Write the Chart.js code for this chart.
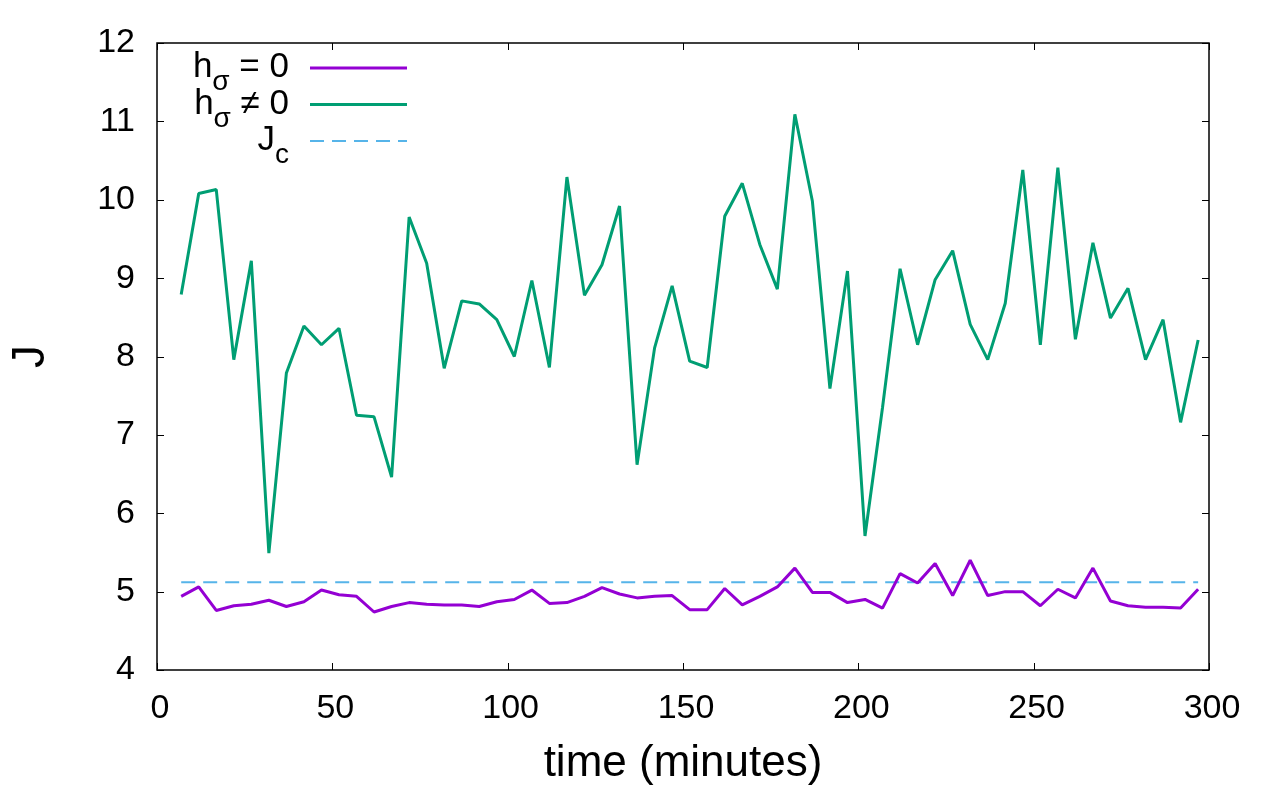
<!DOCTYPE html>
<html>
<head>
<meta charset="utf-8">
<script src="https://cdn.jsdelivr.net/npm/chart.js@4.4.1/dist/chart.umd.min.js"></script>
<style>
  html, body { margin: 0; padding: 0; background: #fff; }
</style>
</head>
<body>
<canvas id="chart" width="1275" height="788"></canvas>
<script>
// time points (minutes)
const times = [6.9, 11.9, 16.9, 21.9, 26.9, 31.9, 36.9, 41.9, 46.9, 51.9,
  56.9, 61.9, 66.9, 71.9, 76.9, 81.9, 86.9, 91.9, 96.9, 101.9,
  106.9, 111.9, 116.9, 121.9, 126.9, 131.9, 136.9, 141.9, 146.9, 151.9,
  156.9, 161.9, 166.9, 171.9, 176.9, 181.9, 186.9, 191.9, 196.9, 201.9,
  206.9, 211.9, 216.9, 221.9, 226.9, 231.9, 236.9, 241.9, 246.9, 251.9,
  256.9, 261.9, 266.9, 271.9, 276.9, 281.9, 286.9, 291.9, 296.9];

// J for h_sigma = 0
const jZero = [4.94, 5.06, 4.76, 4.82, 4.84, 4.89, 4.81, 4.87, 5.02, 4.96,
  4.94, 4.74, 4.81, 4.86, 4.84, 4.83, 4.83, 4.81, 4.87, 4.90,
  5.02, 4.85, 4.86, 4.94, 5.05, 4.97, 4.92, 4.94, 4.95, 4.77,
  4.77, 5.04, 4.83, 4.94, 5.06, 5.30, 4.99, 4.99, 4.86, 4.90,
  4.79, 5.23, 5.11, 5.36, 4.95, 5.40, 4.95, 5.00, 5.00, 4.82,
  5.03, 4.92, 5.30, 4.88, 4.82, 4.80, 4.80, 4.79, 5.03];

// J for h_sigma != 0
const jNonZero = [8.79, 10.08, 10.13, 7.96, 9.22, 5.49, 7.79, 8.39, 8.15, 8.36,
  7.25, 7.23, 6.46, 9.78, 9.19, 7.85, 8.71, 8.67, 8.47, 8.00,
  8.97, 7.86, 10.29, 8.78, 9.17, 9.92, 6.62, 8.11, 8.90, 7.94,
  7.86, 9.79, 10.21, 9.43, 8.86, 11.09, 9.98, 7.59, 9.09, 5.71,
  7.35, 9.12, 8.15, 8.98, 9.35, 8.41, 7.96, 8.68, 10.38, 8.15,
  10.41, 8.22, 9.45, 8.49, 8.87, 7.96, 8.47, 7.16, 8.21];

// critical value J_c
const jCritical = 5.12;

// legend labels: [text, subscript, rest]
const legendLabels = [
  ['h', 'σ', ' = 0'],
  ['h', 'σ', ' ≠ 0'],
  ['J', 'c', '']
];

const FONT = "'Liberation Sans', Arial, sans-serif";

function toPoints(xs, ys) {
  return xs.map((t, i) => ({ x: t, y: ys[i] }));
}

// frame and inward ticks, mirrored on top and right (gnuplot style)
const frameTicks = {
  id: 'frameTicks',
  afterDatasetsDraw(chart) {
    const { ctx, chartArea: a, scales: { x, y } } = chart;
    const len = 7;
    ctx.save();
    ctx.strokeStyle = '#000';
    ctx.lineWidth = 1;
    ctx.beginPath();
    x.ticks.forEach(tk => {
      const px = Math.round(x.getPixelForValue(tk.value)) + 0.5;
      ctx.moveTo(px, a.bottom); ctx.lineTo(px, a.bottom - len);
      ctx.moveTo(px, a.top); ctx.lineTo(px, a.top + len);
    });
    y.ticks.forEach(tk => {
      const py = Math.round(y.getPixelForValue(tk.value)) + 0.5;
      ctx.moveTo(a.left, py); ctx.lineTo(a.left + len, py);
      ctx.moveTo(a.right, py); ctx.lineTo(a.right - len, py);
    });
    ctx.stroke();
    ctx.lineWidth = 1.5;
    ctx.strokeRect(a.left, a.top, a.right - a.left, a.bottom - a.top);
    ctx.restore();
  }
};

// key in the top-left corner, with subscripts
const keyBox = {
  id: 'keyBox',
  afterDraw(chart) {
    const { ctx, chartArea: a } = chart;
    const textRight = a.left + 132;
    const lineX0 = a.left + 153;
    const lineX1 = a.left + 250;
    const big = '35px ' + FONT;
    const small = '28px ' + FONT;
    ctx.save();
    chart.data.datasets.forEach((ds, i) => {
      const ly = a.top + 25 + i * 36.5;
      const base = ly + 9;
      const [main, sub, rest] = legendLabels[i];
      ctx.font = big;
      const w1 = ctx.measureText(main).width;
      const w3 = ctx.measureText(rest).width;
      ctx.font = small;
      const w2 = ctx.measureText(sub).width;
      const cx = textRight - (w1 + w2 + w3);
      ctx.fillStyle = '#000';
      ctx.textBaseline = 'alphabetic';
      ctx.textAlign = 'left';
      ctx.font = big;
      ctx.fillText(main, cx, base);
      ctx.font = small;
      ctx.fillText(sub, cx + w1, base + 13);
      ctx.font = big;
      ctx.fillText(rest, cx + w1 + w2, base);

      ctx.strokeStyle = ds.borderColor;
      ctx.lineWidth = ds.borderWidth;
      ctx.setLineDash(ds.borderDash || []);
      ctx.beginPath();
      ctx.moveTo(lineX0, ly);
      ctx.lineTo(lineX1, ly);
      ctx.stroke();
      ctx.setLineDash([]);
    });
    ctx.restore();
  }
};

const ctx = document.getElementById('chart').getContext('2d');
const chart = new Chart(ctx, {
  type: 'line',
  data: {
    datasets: [
      {
        label: 'h_sigma = 0',
        data: toPoints(times, jZero),
        borderColor: '#9400D3',
        borderWidth: 3,
        borderJoinStyle: 'bevel',
        pointRadius: 0,
        tension: 0
      },
      {
        label: 'h_sigma != 0',
        data: toPoints(times, jNonZero),
        borderColor: '#009E73',
        borderWidth: 3,
        borderJoinStyle: 'bevel',
        pointRadius: 0,
        tension: 0
      },
      {
        label: 'J_c',
        data: [{ x: times[0], y: jCritical }, { x: times[times.length - 1], y: jCritical }],
        borderColor: '#56B4E9',
        borderWidth: 2,
        borderDash: [14, 8],
        pointRadius: 0,
        tension: 0
      }
    ]
  },
  options: {
    responsive: false,
    animation: false,
    layout: { padding: { top: 43, right: 66, left: 0, bottom: 0 } },
    plugins: {
      legend: { display: false },
      tooltip: { enabled: false }
    },
    scales: {
      x: {
        type: 'linear',
        min: 0,
        max: 300,
        ticks: {
          stepSize: 50,
          color: '#000',
          padding: 18,
          labelOffset: 3,
          maxRotation: 0,
          font: { family: FONT, size: 34 }
        },
        grid: { display: false, drawTicks: false },
        border: { display: false },
        title: {
          display: true,
          text: 'time (minutes)',
          color: '#000',
          font: { family: FONT, size: 44, lineHeight: 1 },
          padding: { top: 0, bottom: 2 }
        },
        afterFit(scale) { scale.height = 118; }
      },
      y: {
        min: 4,
        max: 12,
        ticks: {
          stepSize: 1,
          color: '#000',
          padding: 22,
          font: { family: FONT, size: 34 }
        },
        grid: { display: false, drawTicks: false },
        border: { display: false },
        title: {
          display: true,
          text: 'J',
          color: '#000',
          font: { family: FONT, size: 46, lineHeight: 1 },
          padding: { top: 8, bottom: 0 }
        },
        afterFit(scale) { scale.width = 157; }
      }
    }
  },
  plugins: [frameTicks, keyBox]
});
</script>
</body>
</html>
